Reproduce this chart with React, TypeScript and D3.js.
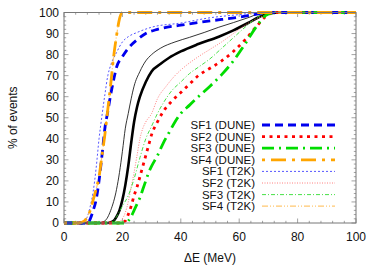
import React, { useEffect, useRef } from "react";
import * as d3 from "d3";

// cumulative % of events vs energy ΔE (MeV)
const blackThick = [[0,0],[15,0],[17,1],[18,3],[19,6],[20,11],[21,18],[22,27],[23,38],[24,48],[25,55],[26,60],[28,67],[30,72],[33,75.5],[36,78.5],[40,81.5],[46,85],[53,88.5],[58,91.5],[63,95],[67,98],[70,99.5],[74,100],[100,100]];
const blackThin = [[0,0],[12,0],[14,1],[16,6],[18,16],[19,24],[20,34],[21,45],[22,52],[23,59],[24,65],[26,72],[28,77],[30,80],[33,83],[38,86],[43,88.2],[48,90.5],[53,93],[58,95.2],[63,97.5],[67,99.5],[70,100],[100,100]];
const sf1Dune = [[0,0],[8,0],[9,2],[10,6],[11,11],[12,20],[13,32],[14,45],[15,53],[16,61],[17,68],[18,74],[20,79],[22,83],[25,87],[28,90],[32,92],[40,94],[50,96],[60,97.8],[65,99],[70,100],[100,100]];
const sf2Dune = [[0,0],[19,0],[21,1],[22,4],[23,8],[24,13],[25,17],[26,22],[27,27],[28,32],[29,37],[30,42],[32,48],[34,53],[37,58],[40,62],[43,66],[46,70],[50,73.5],[54,77],[58,81.5],[62,87],[66,93.5],[69,98],[72,100],[100,100]];
const sf3Dune = [[0,0],[21,0],[22,1],[23,3],[24,6],[25,9],[26,12],[27,16],[28,20],[29,24],[30,27],[32,32],[34,38],[36,43],[38,48],[40,52],[43,56],[46,60],[50,65],[54,70.5],[58,77],[62,85],[66,93.5],[69,98.5],[72,100],[100,100]];
const sf4Dune = [[0,0],[5,0],[7,1],[8,3],[9,6],[10,11],[11,16],[12,22],[13,32],[14,42],[15,54],[16,66],[17,79],[18,89],[19,97],[20,100],[100,100]];
const sf1T2k = [[0,0],[5,0],[7,1],[8,3],[9,8],[10,15],[11,26],[12,40],[13,51],[14,61],[15,70],[16,75],[18,81],[20,86],[22,88.5],[25,90.5],[30,93],[40,95],[50,97.5],[60,99],[67,100],[100,100]];
const sf2T2k = [[0,0],[18,0],[20,2],[21,5],[22,10],[23,17],[24,24],[25,32],[26,40],[27,45],[28,48],[30,52],[32,59],[35,65],[38,70],[42,75],[46,79],[50,82.5],[54,86],[58,90],[62,94],[66,97],[70,99.5],[73,100],[100,100]];
const sf3T2k = [[0,0],[15,0],[17,1],[18,3],[20,8],[22,13],[24,21],[26,31],[28,40],[30,46],[32,52],[34,57],[37,63],[40,67],[43,71],[46,74],[50,78],[54,83],[58,88],[62,93],[66,97.5],[70,100],[100,100]];
const sf4T2k = [[0,0],[5,0],[7,1],[8,3],[9,6],[10,11],[11,16],[12,22],[13,32],[14,42],[15,54],[16,66],[17,79],[18,89],[19,97],[20,100],[100,100]];

const xTicks = [0, 20, 40, 60, 80, 100];
const yTicks = [0, 10, 20, 30, 40, 50, 60, 70, 80, 90, 100];

const series = [
  { name: null, data: blackThin, color: "#000000", width: 0.8, dash: null },
  { name: null, data: blackThick, color: "#000000", width: 2.6, dash: null },
  { name: "SF2 (T2K)", data: sf2T2k, color: "#ff7070", width: 0.9, dash: "1,1.5" },
  { name: "SF3 (T2K)", data: sf3T2k, color: "#33dd33", width: 0.9, dash: "4,2,1,2" },
  { name: "SF1 (T2K)", data: sf1T2k, color: "#5555ff", width: 1, dash: "2,2" },
  { name: "SF4 (T2K)", data: sf4T2k, color: "#ffc870", width: 1.2, dash: "6,2,1,2,1,2" },
  { name: "SF2 (DUNE)", data: sf2Dune, color: "#ff0000", width: 2.8, dash: "3,4.5" },
  { name: "SF3 (DUNE)", data: sf3Dune, color: "#00dd00", width: 2.8, dash: "12,5,2,5" },
  { name: "SF1 (DUNE)", data: sf1Dune, color: "#0000ee", width: 2.8, dash: "8,5" },
  { name: "SF4 (DUNE)", data: sf4Dune, color: "#ffa500", width: 2.8, dash: "3,6,15,6" },
];
const legendOrder = ["SF1 (DUNE)", "SF2 (DUNE)", "SF3 (DUNE)", "SF4 (DUNE)", "SF1 (T2K)", "SF2 (T2K)", "SF3 (T2K)", "SF4 (T2K)"];

function drawChart(el) {
  const width = 380, height = 266;
  const left = 64, right = 356, top = 12.5, bottom = 223;
  const font = "'Liberation Sans', Arial, sans-serif";

  const x = d3.scaleLinear([0, 100], [left, right]);
  const y = d3.scaleLinear([0, 100], [bottom, top]);

  const svg = d3.select(el).append("svg")
    .attr("width", width).attr("height", height)
    .style("position", "absolute").style("left", "0px").style("top", "0px")
    .style("font-family", font);

  svg.append("rect").attr("width", width).attr("height", height).attr("fill", "#fff");

  // minor/major ticks on all four sides, drawn inward
  const tickColor = "#8a8a8a";
  const xMinor = d3.range(0, 101, 4);
  const yMinor = d3.range(0, 101, 2);
  const ticks = svg.append("g").attr("stroke", tickColor).attr("stroke-width", 0.8);
  xMinor.forEach((v) => {
    const len = v % 20 === 0 ? 4.5 : 2.2;
    ticks.append("line").attr("x1", x(v)).attr("x2", x(v)).attr("y1", bottom).attr("y2", bottom - len);
    ticks.append("line").attr("x1", x(v)).attr("x2", x(v)).attr("y1", top).attr("y2", top + len);
  });
  yMinor.forEach((v) => {
    const len = v % 10 === 0 ? 4.5 : 2.2;
    ticks.append("line").attr("y1", y(v)).attr("y2", y(v)).attr("x1", left).attr("x2", left + len);
    ticks.append("line").attr("y1", y(v)).attr("y2", y(v)).attr("x1", right).attr("x2", right - len);
  });

  const line = d3.line().x((d) => x(d[0])).y((d) => y(d[1])).curve(d3.curveMonotoneX);

  svg.append("g").selectAll("path").data(series).join("path")
    .attr("d", (s) => line(s.data))
    .attr("fill", "none")
    .attr("stroke", (s) => s.color)
    .attr("stroke-width", (s) => s.width)
    .attr("stroke-dasharray", (s) => s.dash);

  // frame
  svg.append("rect").attr("x", left).attr("y", top).attr("width", right - left).attr("height", bottom - top)
    .attr("fill", "none").attr("stroke", "#777").attr("stroke-width", 1);

  // tick labels
  svg.append("g").selectAll("text").data(xTicks).join("text")
    .attr("x", (d) => x(d)).attr("y", bottom + 18)
    .attr("text-anchor", "middle").attr("font-size", 12).attr("fill", "#111")
    .text((d) => d);
  svg.append("g").selectAll("text").data(yTicks).join("text")
    .attr("x", left - 5).attr("y", (d) => y(d) + 4.2)
    .attr("text-anchor", "end").attr("font-size", 12).attr("fill", "#111")
    .text((d) => d);

  svg.append("text").attr("x", (left + right) / 2).attr("y", 262)
    .attr("text-anchor", "middle").attr("font-size", 12).attr("fill", "#111")
    .text("ΔE (MeV)");
  svg.append("text").attr("transform", `translate(17,${(top + bottom) / 2}) rotate(-90)`)
    .attr("text-anchor", "middle").attr("font-size", 12).attr("fill", "#111")
    .text("% of events");

  // legend
  const lg = svg.append("g");
  legendOrder.forEach((name, i) => {
    const s = series.find((d) => d.name === name);
    const yy = 125 + i * 11.6;
    lg.append("text").attr("x", 255).attr("y", yy + 4).attr("text-anchor", "end")
      .attr("font-size", 11.5).attr("fill", "#111").text(name);
    lg.append("line").attr("x1", 262).attr("x2", 335).attr("y1", yy).attr("y2", yy)
      .attr("stroke", s.color).attr("stroke-width", s.width).attr("stroke-dasharray", s.dash);
  });

  return svg.node();
}

export default function App() {
  const ref = useRef(null);
  useEffect(() => {
    if (!ref.current) return;
    ref.current.innerHTML = "";
    drawChart(ref.current);
  }, []);
  return <div ref={ref} />;
}
